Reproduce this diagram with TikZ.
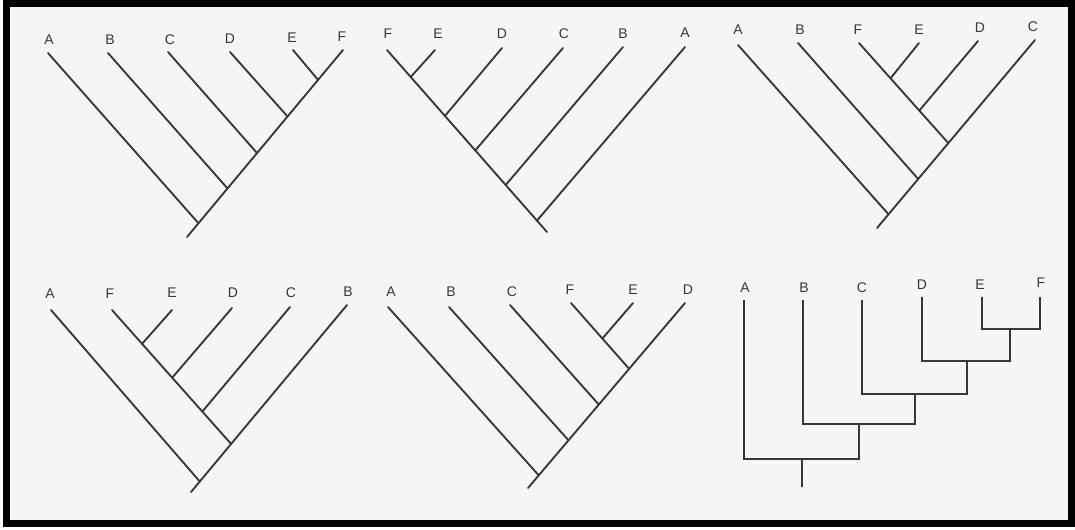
\documentclass[tikz,border=0pt]{standalone}
\usepackage{fontspec}
\setmainfont{Liberation Sans}
\usetikzlibrary{calc}
\definecolor{ink}{RGB}{55,55,55}
\definecolor{paper}{RGB}{245,245,245}
\begin{document}
\begin{tikzpicture}[x=0.75pt,y=-0.75pt,
  lbl/.style={inner sep=0pt,text=ink,font=\fontsize{10.5}{12}\selectfont},
  branch/.style={draw=ink,line width=1.4pt,line cap=round},
  frame/.style={draw=black,line width=5.25pt}]
\useasboundingbox (0,0) rectangle (1075,529);
\fill[white] (0,0) rectangle (1075,529);
\fill[paper] (6.5,3.5) rectangle (1071.5,523.5);
\draw[frame] (6.5,3.5) rectangle (1071.5,523.5);

% ---------- Tree 1 ----------
\node[lbl] (a1) at (49,40) {A};
\node[lbl] (b1) at (110,40) {B};
\node[lbl] (c1) at (170,40) {C};
\node[lbl] (d1) at (230,39) {D};
\node[lbl] (e1) at (292,38) {E};
\node[lbl] (f1) at (342,37) {F};
\coordinate (a1t) at (48,53);
\coordinate (b1t) at (108,53);
\coordinate (c1t) at (168,52);
\coordinate (d1t) at (230,52);
\coordinate (e1t) at (293,50);
\coordinate (f1t) at (343,50);
\coordinate (r1) at (187,237);
\coordinate (j1a) at ($(r1)!(197,222)!(f1t)$);
\coordinate (j1b) at ($(r1)!(227,188)!(f1t)$);
\coordinate (j1c) at ($(r1)!(257,153)!(f1t)$);
\coordinate (j1d) at ($(r1)!(287,116)!(f1t)$);
\coordinate (j1e) at ($(r1)!(317,79)!(f1t)$);
\draw[branch] (r1) -- (f1t);
\draw[branch] (a1t) -- (j1a);
\draw[branch] (b1t) -- (j1b);
\draw[branch] (c1t) -- (j1c);
\draw[branch] (d1t) -- (j1d);
\draw[branch] (e1t) -- (j1e);

% ---------- Tree 2 ----------
\node[lbl] (f2) at (388,34) {F};
\node[lbl] (e2) at (438,34) {E};
\node[lbl] (d2) at (502,34) {D};
\node[lbl] (c2) at (564,34) {C};
\node[lbl] (b2) at (623,34) {B};
\node[lbl] (a2) at (685,33) {A};
\coordinate (f2t) at (387,50);
\coordinate (e2t) at (435,50);
\coordinate (d2t) at (502,48);
\coordinate (c2t) at (563,48);
\coordinate (b2t) at (623,47);
\coordinate (a2t) at (685,47);
\coordinate (r2) at (547,232);
\coordinate (j2e) at ($(f2t)!(413,75)!(r2)$);
\coordinate (j2d) at ($(f2t)!(446,115)!(r2)$);
\coordinate (j2c) at ($(f2t)!(478,148)!(r2)$);
\coordinate (j2b) at ($(f2t)!(508,183)!(r2)$);
\coordinate (j2a) at ($(f2t)!(540,218)!(r2)$);
\draw[branch] (f2t) -- (r2);
\draw[branch] (e2t) -- (j2e);
\draw[branch] (d2t) -- (j2d);
\draw[branch] (c2t) -- (j2c);
\draw[branch] (b2t) -- (j2b);
\draw[branch] (a2t) -- (j2a);

% ---------- Tree 3 ----------
\node[lbl] (a3) at (738,30) {A};
\node[lbl] (b3) at (800,30) {B};
\node[lbl] (f3) at (858,30) {F};
\node[lbl] (e3) at (919,30) {E};
\node[lbl] (d3) at (980,28) {D};
\node[lbl] (c3) at (1033,27) {C};
\coordinate (a3t) at (738,45);
\coordinate (b3t) at (798,43);
\coordinate (f3t) at (859,43);
\coordinate (e3t) at (919,43);
\coordinate (d3t) at (978,41);
\coordinate (c3t) at (1035,40);
\coordinate (r3) at (877,228);
\coordinate (j3a) at ($(r3)!(887,213)!(c3t)$);
\coordinate (j3b) at ($(r3)!(917,178)!(c3t)$);
\coordinate (j3f) at ($(r3)!(947,142)!(c3t)$);
\coordinate (j3e) at ($(f3t)!(892,77)!(j3f)$);
\coordinate (j3d) at ($(f3t)!(920,110)!(j3f)$);
\draw[branch] (r3) -- (c3t);
\draw[branch] (a3t) -- (j3a);
\draw[branch] (b3t) -- (j3b);
\draw[branch] (f3t) -- (j3f);
\draw[branch] (e3t) -- (j3e);
\draw[branch] (d3t) -- (j3d);

% ---------- Tree 4 ----------
\node[lbl] (a4) at (50,294) {A};
\node[lbl] (f4) at (110,294) {F};
\node[lbl] (e4) at (172,293) {E};
\node[lbl] (d4) at (233,293) {D};
\node[lbl] (c4) at (291,293) {C};
\node[lbl] (b4) at (348,292) {B};
\coordinate (a4t) at (51,310);
\coordinate (f4t) at (112,310);
\coordinate (e4t) at (172,310);
\coordinate (d4t) at (232,308);
\coordinate (c4t) at (290,307);
\coordinate (b4t) at (347,305);
\coordinate (r4) at (191,492);
\coordinate (j4a) at ($(r4)!(198,480)!(b4t)$);
\coordinate (j4f) at ($(r4)!(230,443)!(b4t)$);
\coordinate (j4e) at ($(f4t)!(143,343)!(j4f)$);
\coordinate (j4d) at ($(f4t)!(173,377)!(j4f)$);
\coordinate (j4c) at ($(f4t)!(203,411)!(j4f)$);
\draw[branch] (r4) -- (b4t);
\draw[branch] (a4t) -- (j4a);
\draw[branch] (f4t) -- (j4f);
\draw[branch] (e4t) -- (j4e);
\draw[branch] (d4t) -- (j4d);
\draw[branch] (c4t) -- (j4c);

% ---------- Tree 5 ----------
\node[lbl] (a5) at (391,292) {A};
\node[lbl] (b5) at (451,292) {B};
\node[lbl] (c5) at (512,292) {C};
\node[lbl] (f5) at (570,290) {F};
\node[lbl] (e5) at (633,290) {E};
\node[lbl] (d5) at (688,290) {D};
\coordinate (a5t) at (388,307);
\coordinate (b5t) at (449,307);
\coordinate (c5t) at (510,305);
\coordinate (f5t) at (571,303);
\coordinate (e5t) at (633,303);
\coordinate (d5t) at (685,303);
\coordinate (r5) at (528,488);
\coordinate (j5a) at ($(r5)!(536,473)!(d5t)$);
\coordinate (j5b) at ($(r5)!(567,439)!(d5t)$);
\coordinate (j5c) at ($(r5)!(597,403)!(d5t)$);
\coordinate (j5f) at ($(r5)!(627,367)!(d5t)$);
\coordinate (j5e) at ($(f5t)!(603,338)!(j5f)$);
\draw[branch] (r5) -- (d5t);
\draw[branch] (a5t) -- (j5a);
\draw[branch] (b5t) -- (j5b);
\draw[branch] (c5t) -- (j5c);
\draw[branch] (f5t) -- (j5f);
\draw[branch] (e5t) -- (j5e);

% ---------- Tree 6 (rectangular) ----------
\node[lbl] (a6) at (745,288) {A};
\node[lbl] (b6) at (804,288) {B};
\node[lbl] (c6) at (862,288) {C};
\node[lbl] (d6) at (922,285) {D};
\node[lbl] (e6) at (980,285) {E};
\node[lbl] (f6) at (1041,283) {F};
\coordinate (a6t) at (744,300);
\coordinate (b6t) at (803,300);
\coordinate (c6t) at (862,300);
\coordinate (d6t) at (922,297);
\coordinate (e6t) at (982,297);
\coordinate (f6t) at (1040,297);
\coordinate (n6ef) at (1010,329);
\coordinate (n6d) at (967,361);
\coordinate (n6c) at (915,394);
\coordinate (n6b) at (859,424);
\coordinate (n6a) at (802,459);
\coordinate (r6) at (802,487);
\draw[branch,line cap=butt] (e6t) |- (n6ef) -| (f6t);
\draw[branch,line cap=butt] (d6t) |- (n6d) -| (n6ef);
\draw[branch,line cap=butt] (c6t) |- (n6c) -| (n6d);
\draw[branch,line cap=butt] (b6t) |- (n6b) -| (n6c);
\draw[branch,line cap=butt] (a6t) |- (n6a) -| (n6b);
\draw[branch,line cap=butt] (n6a) -- (r6);
\end{tikzpicture}
\end{document}
